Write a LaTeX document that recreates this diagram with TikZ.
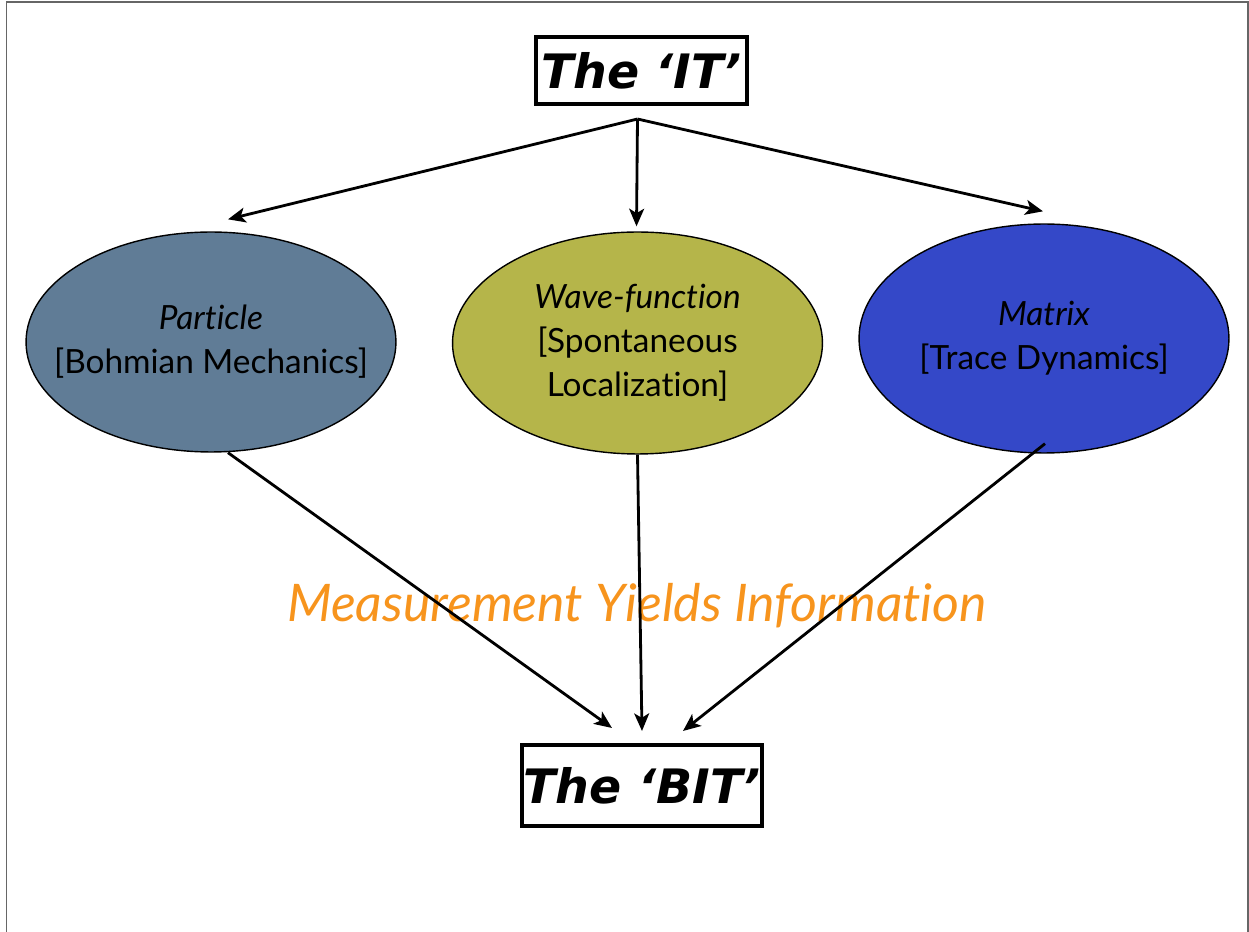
\documentclass[tikz,border=0pt]{standalone}
\usepackage{fontspec}
\usepackage{tikz}
\usetikzlibrary{positioning,arrows.meta,shapes.geometric}
\setmainfont{Lato}[Ligatures={TeX,NoCommon}]
\newfontfamily\titlefont{DejaVu Sans}

\definecolor{slate}{RGB}{96,124,150}
\definecolor{olive}{RGB}{181,181,74}
\definecolor{royal}{RGB}{52,72,200}
\definecolor{meas}{RGB}{247,148,29}

\tikzset{
  titlebox/.style={draw, line width=2.3pt, minimum width=4.22cm, minimum height=1.34cm,
    inner sep=0pt, font=\titlefont\bfseries\itshape\fontsize{27}{30}\selectfont},
  theory/.style={ellipse, draw, line width=0.8pt, minimum width=7.4cm, minimum height=4.4cm,
    inner sep=-1cm, align=center, font=\fontsize{19}{25}\selectfont},
  arr/.style={line width=1.6pt, -{Stealth[length=10pt,width=8.5pt,inset=2.5pt]}}
}

\begin{document}
\begin{tikzpicture}[x=0.02cm, y=-0.02cm]
    \useasboundingbox (0,0) rectangle (1249,932);
    \draw[gray!80!black, line width=0.8pt] (6.5,932) -- (6.5,2) -- (1248,2) -- (1248,932);

    \node[titlebox] (it) at (641.5,70.5) {The ‘IT’};
    \node[titlebox, minimum width=4.8cm, minimum height=1.62cm] (bit) at (642,785.5) {The ‘BIT’};

    \node[theory, fill=slate] (part) at (211,342) {\textit{Particle}\\{[Bohmian Mechanics]}};
    \node[theory, fill=olive, minimum height=4.44cm] (wave) at (637.5,343) {\textit{Wave-function}\\{[Spontaneous}\\Localization]};
    \node[theory, fill=royal, minimum height=4.58cm] (matrix) at (1044,338.5) {\textit{Matrix}\\{[Trace Dynamics]}};

    \node[text=meas, font=\itshape\fontsize{29.5}{32}\selectfont] (yield) at (637,606) {Measurement Yields Information};

    % it branches out into the three pictures
    \coordinate (fork) at ([shift={(-4,13)}]it.south);
    \draw[arr] (fork) -- ([shift={(17,-12)}]part.north);
    \draw[arr] (fork) -- ([shift={(-1,-5)}]wave.north);
    \draw[arr] (fork) -- ([shift={(-1,-12)}]matrix.north);

    % and each one comes down to the bit
    \draw[arr] ([xshift=0.34cm]part.south) -- ([shift={(-30,-15)}]bit.north);
    \draw[arr] (wave.south) -- ([shift={(0,-12)}]bit.north);
    \draw[arr] ([shift={(1,-10)}]matrix.south) -- ([shift={(41,-12)}]bit.north);
\end{tikzpicture}
\end{document}
